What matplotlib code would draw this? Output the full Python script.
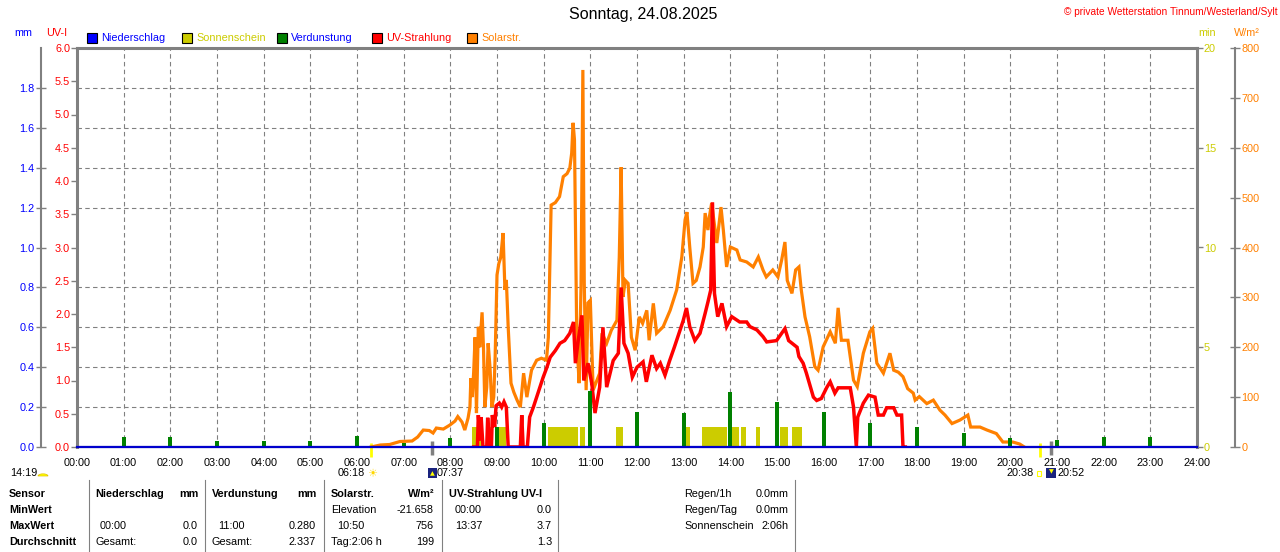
import numpy as np
import matplotlib
matplotlib.use('Agg')
import matplotlib.pyplot as plt
from matplotlib.patches import Rectangle, Wedge
from matplotlib.lines import Line2D

plt.rcParams['font.family'] = ['Liberation Sans', 'DejaVu Sans']

# ---- data ----
# Solarstrahlung (h, W/m2)
solar_t = [6.30, 6.50, 6.70, 6.92, 7.18, 7.30, 7.42, 7.55, 7.63, 7.70, 7.85, 7.99,
           8.10, 8.16, 8.25, 8.31, 8.38, 8.42, 8.44, 8.47, 8.50, 8.53, 8.56, 8.60,
           8.63, 8.68, 8.71, 8.74, 8.78, 8.81, 8.85, 8.89, 8.93, 8.96, 9.00, 9.04,
           9.08, 9.13, 9.17, 9.20, 9.24, 9.30, 9.36, 9.43, 9.50, 9.57, 9.64, 9.74,
           9.85, 9.95, 10.06, 10.10, 10.16, 10.25, 10.34, 10.42, 10.50, 10.56, 10.60,
           10.63, 10.66, 10.71, 10.76, 10.80, 10.84, 10.87, 10.91, 10.95, 11.00, 11.06,
           11.20, 11.25, 11.35, 11.45, 11.57, 11.62, 11.66, 11.70, 11.75, 11.81, 11.88,
           11.96, 12.05, 12.12, 12.21, 12.26, 12.35, 12.42, 12.56, 12.71, 12.85, 12.96,
           13.03, 13.07, 13.13, 13.20, 13.27, 13.35, 13.42, 13.46, 13.52, 13.55, 13.60,
           13.71, 13.80, 13.85, 13.92, 14.00, 14.14, 14.21, 14.35, 14.49, 14.60, 14.70,
           14.77, 14.91, 15.02, 15.10, 15.17, 15.22, 15.32, 15.40, 15.47, 15.52, 15.60,
           15.70, 15.81, 15.88, 15.99, 16.14, 16.25, 16.31, 16.38, 16.52, 16.64, 16.72,
           16.85, 16.99, 17.05, 17.14, 17.28, 17.42, 17.50, 17.60, 17.70, 17.80, 17.92,
           17.96, 18.05, 18.21, 18.35, 18.49, 18.60, 18.75, 18.92, 19.09, 19.15, 19.35,
           19.50, 19.70, 19.84, 20.05, 20.20, 20.30]
solar_w = [0, 4, 5, 11, 12, 20, 34, 33, 28, 38, 36, 44,
           52, 61, 50, 34, 58, 80, 138, 100, 150, 220, 68, 241,
           200, 270, 200, 80, 120, 208, 160, 80, 100, 180, 345, 368,
           380, 429, 315, 335, 240, 128, 110, 94, 80, 148, 100, 154,
           174, 178, 174, 220, 485, 490, 502, 542, 548, 559, 589,
           650, 616, 214, 128, 321, 756, 328, 114, 289, 294, 114,
           148, 228, 208, 234, 254, 381, 561, 301, 334, 328, 220,
           194, 261, 248, 274, 214, 288, 228, 241, 274, 315, 381,
           455, 471, 401, 328, 334, 361, 401, 469, 435, 461, 489,
           409, 481, 435, 361, 401, 395, 375, 371, 361, 381, 355,
           341, 355, 341, 375, 411, 334, 308, 355, 361, 315, 261,
           221, 161, 154, 201, 231, 208, 279, 214, 214, 134, 121,
           188, 231, 238, 168, 148, 188, 154, 150, 141, 117, 108,
           94, 101, 87, 94, 74, 64, 47, 54, 64, 40, 40,
           34, 27, 10, 10, 6, 0]

# UV-Strahlung (h, UV-I)
uv_t = [8.50, 8.58, 8.60, 8.64, 8.66, 8.70, 8.78, 8.80, 8.84, 8.88, 8.90, 8.95,
        8.98, 9.05, 9.10, 9.15, 9.20, 9.24, 9.50, 9.53, 9.56, 9.65, 9.70, 9.78,
        9.85, 9.92, 9.99, 10.07, 10.14, 10.25, 10.35, 10.45, 10.56, 10.64, 10.68,
        10.74, 10.82, 10.86, 10.95, 11.03, 11.10, 11.20, 11.27, 11.35, 11.49, 11.60,
        11.66, 11.72, 11.81, 11.90, 12.00, 12.13, 12.20, 12.32, 12.42, 12.50, 12.60,
        12.70, 12.80, 12.90, 12.99, 13.06, 13.13, 13.24, 13.35, 13.46, 13.52, 13.58,
        13.617, 13.66, 13.73, 13.82, 13.92, 14.03, 14.20, 14.35, 14.42, 14.57, 14.70,
        14.78, 14.99, 15.17, 15.25, 15.43, 15.47, 15.56, 15.63, 15.78, 15.85, 15.95,
        16.07, 16.14, 16.24, 16.31, 16.57, 16.64, 16.70, 16.73, 16.85, 16.96, 17.10,
        17.17, 17.28, 17.35, 17.50, 17.57, 17.67, 17.70, 17.75]
uv_i = [0, 0, 0.48, 0.10, 0.45, 0, 0, 0.44, 0, 0, 0.48, 0.30,
        0.62, 0.66, 0.60, 0.68, 0.60, 0, 0, 0.48, 0, 0, 0.45, 0.60,
        0.75, 0.90, 1.05, 1.20, 1.35, 1.45, 1.56, 1.60, 1.71, 1.88, 1.26,
        1.60, 1.98, 1.00, 1.26, 0.96, 0.51, 0.90, 1.80, 0.90, 1.30, 1.41,
        2.40, 1.56, 1.41, 1.05, 1.20, 1.28, 0.98, 1.38, 1.18, 1.26, 1.08,
        1.30, 1.50, 1.71, 1.90, 2.09, 1.81, 1.60, 1.71, 2.01, 2.18, 2.36,
        3.68, 2.31, 1.96, 2.16, 1.81, 1.96, 1.88, 1.88, 1.81, 1.76, 1.66,
        1.58, 1.60, 1.78, 1.60, 1.50, 1.36, 1.26, 1.11, 0.75, 0.70, 0.73,
        0.90, 0.98, 0.81, 0.89, 0.89, 0.60, 0, 0.45, 0.66, 0.78, 0.75,
        0.48, 0.48, 0.59, 0.59, 0.48, 0.48, 0, 0]

# Verdunstung (h, mm)
evap_t = [1, 2, 3, 4, 5, 6, 7, 8, 9, 10, 11, 12, 13, 14, 15, 16, 17, 18, 19, 20, 21, 22, 23]
evap_mm = [0.05, 0.05, 0.03, 0.03, 0.03, 0.055, 0.02, 0.047, 0.10, 0.12, 0.28, 0.177,
           0.172, 0.277, 0.227, 0.177, 0.122, 0.098, 0.072, 0.047, 0.035, 0.05, 0.05]

# Sonnenschein (start h, end h, min)
sun_start = [8.46, 8.76, 8.96, 10.09, 10.78, 11.55, 12.96, 13.39, 13.95, 14.23, 14.55, 15.06, 15.32]
sun_end = [8.70, 8.92, 9.19, 10.74, 10.89, 11.70, 13.13, 13.93, 14.19, 14.34, 14.64, 15.24, 15.54]
sun_min = [1, 1, 1, 1, 1, 1, 1, 1, 1, 1, 1, 1, 1]

# Niederschlag (h, mm)
rain_t = [0, 24]
rain_mm = [0.0, 0.0]

# Sonnenauf-/untergang (h)
twilight_t = [6.30, 20.633]
sunmark_t = [7.617, 20.867]

hour_ticks = list(range(25))
hour_labels = ['%02d:00' % h for h in hour_ticks]

# Farben
C_GRAY = '#808080'
C_BLUE = '#0000FF'
C_YEL = '#CCCC00'
C_GRN = '#008000'
C_RED = '#FF0000'
C_ORA = '#FF8000'

W, H = 1280, 552
def fx(x):
    return x / W
def fy(y):
    return 1 - y / H

FS = 7.8

fig = plt.figure(figsize=(12.8, 5.52), dpi=100)
rect = [fx(77), fy(447), 1120 / W, 399 / H]

ax = fig.add_axes(rect)          # Gitter + UV-Achse
ax_min = ax.twinx()              # Sonnenschein
ax_w = ax.twinx()                # Solarstrahlung
ax_red = ax.twinx()              # UV-Kurve (über Orange)
ax_mm = ax.twinx()               # Verdunstung, Niederschlag

ax.set_xlim(0, 24)
ax.set_ylim(0, 6)
ax_min.set_ylim(0, 20)
ax_w.set_ylim(0, 800)
ax_red.set_ylim(0, 6)
ax_mm.set_ylim(0, 2)

# Gitter
ax.set_xticks(hour_ticks)
ax.set_xticklabels(hour_labels, fontsize=FS)
ax.tick_params(axis='x', length=0, pad=8)
ax.set_yticks(np.arange(0, 6.01, 0.5))
ax.set_yticklabels(['%.1f' % v for v in np.arange(0, 6.01, 0.5)], fontsize=FS, color=C_RED)
ax.tick_params(axis='y', length=4, width=1, color=C_GRAY, pad=1, direction='out')
ax.set_yticks(np.arange(0.6, 5.5, 0.6), minor=True)
ax.tick_params(axis='y', which='minor', length=0)
ax.grid(axis='x', which='major', color=C_GRAY, lw=0.8, ls=(0, (4, 3)))
ax.grid(axis='y', which='minor', color=C_GRAY, lw=0.8, ls=(0, (4, 3)))
for s in ['left', 'top', 'right']:
    ax.spines[s].set_color(C_GRAY)
    ax.spines[s].set_linewidth(2.2)
ax.spines['bottom'].set_color(C_GRAY)
ax.spines['bottom'].set_linewidth(1.5)

for a in (ax_min, ax_w, ax_red, ax_mm):
    for s in a.spines.values():
        s.set_visible(False)

# min-Achse (rechts)
ax_min.set_yticks([0, 5, 10, 15, 20])
ax_min.set_yticklabels(['0', '5', '10', '15', '20'], fontsize=FS, color=C_YEL)
ax_min.tick_params(axis='y', length=4, width=1, color=C_GRAY, pad=1, direction='out')

# W/m2-Achse (außen rechts)
ax_w.spines['right'].set_visible(True)
ax_w.spines['right'].set_position(('axes', (1235 - 77) / 1120))
ax_w.spines['right'].set_color(C_GRAY)
ax_w.spines['right'].set_linewidth(1.5)
ax_w.set_yticks(np.arange(0, 801, 100))
ax_w.set_yticklabels([str(v) for v in range(0, 801, 100)], fontsize=FS, color=C_ORA)
ax_w.tick_params(axis='y', length=7, width=1, color=C_GRAY, pad=1, direction='inout')

ax_red.set_yticks([])

# mm-Achse (außen links)
ax_mm.yaxis.set_ticks_position('left')
ax_mm.yaxis.set_label_position('left')
ax_mm.spines['left'].set_visible(True)
ax_mm.spines['left'].set_position(('axes', (40.7 - 77) / 1120))
ax_mm.spines['left'].set_color(C_GRAY)
ax_mm.spines['left'].set_linewidth(1.5)
ax_mm.set_yticks(np.arange(0, 1.81, 0.2))
ax_mm.set_yticklabels(['%.1f' % v for v in np.arange(0, 1.81, 0.2)], fontsize=FS, color=C_BLUE)
ax_mm.tick_params(axis='y', length=7, width=1, color=C_GRAY, pad=1, direction='inout')

# ---- Kurven und Balken ----
ax_min.bar(sun_start, sun_min, width=np.array(sun_end) - np.array(sun_start),
           align='edge', color=C_YEL, lw=0)
ax_w.plot(solar_t, solar_w, color=C_ORA, lw=2.3, solid_joinstyle='miter')
ax_red.plot(uv_t, uv_i, color=C_RED, lw=2.5, solid_joinstyle='miter')
ax_mm.bar(evap_t, evap_mm, width=0.08, color=C_GRN, lw=0)
ax_mm.plot(rain_t, rain_mm, color='#0000CC', lw=1.6, clip_on=False)

xt = ax.get_xaxis_transform()
ax.vlines(twilight_t, -0.025, 0.01, transform=xt, color='#FFFF00', lw=2, clip_on=False)
ax.vlines(sunmark_t, -0.02, 0.015, transform=xt, color=C_GRAY, lw=2.5, clip_on=False)

# ---- Kopf ----
fig.text(fx(643), fy(15), 'Sonntag, 24.08.2025', fontsize=11.5, ha='center', va='center')
fig.text(fx(1278), fy(12), '\u00a9 private Wetterstation Tinnum/Westerland/Sylt', fontsize=7.3,
         color=C_RED, ha='right', va='center')
fig.text(fx(14), fy(33), 'mm', fontsize=FS, color=C_BLUE, va='center')
fig.text(fx(46), fy(33), 'UV-I', fontsize=FS, color=C_RED, va='center')
fig.text(fx(1198), fy(33), 'min', fontsize=FS, color=C_YEL, va='center')
fig.text(fx(1234), fy(33), 'W/m\u00b2', fontsize=FS, color=C_ORA, va='center')

legend_items = [('Niederschlag', C_BLUE, C_BLUE, 87),
                ('Sonnenschein', C_YEL, C_YEL, 182),
                ('Verdunstung', C_GRN, C_BLUE, 277),
                ('UV-Strahlung', C_RED, C_RED, 372),
                ('Solarstr.', C_ORA, C_ORA, 467)]
for label, fc, tc, x0 in legend_items:
    fig.add_artist(Rectangle((fx(x0), fy(43)), 10 / W, 10 / H, facecolor=fc,
                             edgecolor='black', lw=0.8, transform=fig.transFigure))
    fig.text(fx(x0 + 14), fy(38), label, fontsize=FS, color=tc, va='center')

# ---- Sonnenauf-/untergang ----
fig.text(fx(10), fy(473), '14:19', fontsize=FS, va='center')
fig.add_artist(Wedge((fx(43), fy(476)), 5 / W, 0, 180, facecolor='#FFFF00', edgecolor='#E0C000',
                     lw=0.5, transform=fig.transFigure))
fig.text(fx(365), fy(473), '06:18', fontsize=FS, va='center', ha='right')
fig.text(fx(372), fy(474), '\u2600', fontsize=8, color='#FFD800', va='center', ha='center',
         family='DejaVu Sans')
fig.add_artist(Rectangle((fx(428), fy(478)), 9 / W, 10 / H, facecolor='#1A237E', lw=0,
                         transform=fig.transFigure))
fig.text(fx(432.5), fy(474), '\u25b2', fontsize=4.5, color='#FFFF00', va='center', ha='center',
         family='DejaVu Sans')
fig.text(fx(437), fy(473), '07:37', fontsize=FS, va='center')
fig.text(fx(1034), fy(473), '20:38', fontsize=FS, va='center', ha='right')
fig.add_artist(Rectangle((fx(1037), fy(476)), 4 / W, 5 / H, facecolor='none', edgecolor='#FFFF00',
                         lw=0.8, transform=fig.transFigure))
fig.add_artist(Rectangle((fx(1046), fy(478)), 10 / W, 10 / H, facecolor='#1A237E', lw=0,
                         transform=fig.transFigure))
fig.text(fx(1051), fy(472), '\u25bc', fontsize=4.5, color='#FFFF00', va='center', ha='center',
         family='DejaVu Sans')
fig.text(fx(1057), fy(473), '20:52', fontsize=FS, va='center')

# ---- Tabelle ----
for xs in [89, 205, 324, 442, 558, 795]:
    fig.add_artist(Line2D([fx(xs), fx(xs)], [fy(480), fy(552)], color=C_GRAY, lw=0.8,
                          transform=fig.transFigure))

rows_y = [494, 510, 526, 542]
for txt, y in zip(['Sensor', 'MinWert', 'MaxWert', 'Durchschnitt'], rows_y):
    fig.text(fx(9), fy(y), txt, fontsize=FS, weight='bold', va='center')

head = [('Niederschlag', 95, 'left'), ('mm', 199, 'right'),
        ('Verdunstung', 212, 'left'), ('mm', 316, 'right'),
        ('Solarstr.', 331, 'left'), ('W/m\u00b2', 434, 'right'),
        ('UV-Strahlung UV-I', 449, 'left')]
for txt, x, ha in head:
    fig.text(fx(x), fy(494), txt, fontsize=FS, weight='bold', va='center', ha=ha)

cells = [('Elevation', 331, 510, 'left'), ('-21.658', 434, 510, 'right'),
         ('00:00', 455, 510, 'left'), ('0.0', 552, 510, 'right'),
         ('00:00', 100, 526, 'left'), ('0.0', 198, 526, 'right'),
         ('11:00', 218, 526, 'left'), ('0.280', 316, 526, 'right'),
         ('10:50', 337, 526, 'left'), ('756', 434, 526, 'right'),
         ('13:37', 455, 526, 'left'), ('3.7', 552, 526, 'right'),
         ('Gesamt:', 95, 542, 'left'), ('0.0', 198, 542, 'right'),
         ('Gesamt:', 212, 542, 'left'), ('2.337', 316, 542, 'right'),
         ('Tag:2:06 h', 331, 542, 'left'), ('199', 434, 542, 'right'),
         ('1.3', 552, 542, 'right'),
         ('Regen/1h', 684, 494, 'left'), ('0.0mm', 789, 494, 'right'),
         ('Regen/Tag', 684, 510, 'left'), ('0.0mm', 789, 510, 'right'),
         ('Sonnenschein', 684, 526, 'left'), ('2:06h', 789, 526, 'right')]
for txt, x, y, ha in cells:
    fig.text(fx(x), fy(y), txt, fontsize=FS, va='center', ha=ha)

fig.savefig('out.png', dpi=100)
